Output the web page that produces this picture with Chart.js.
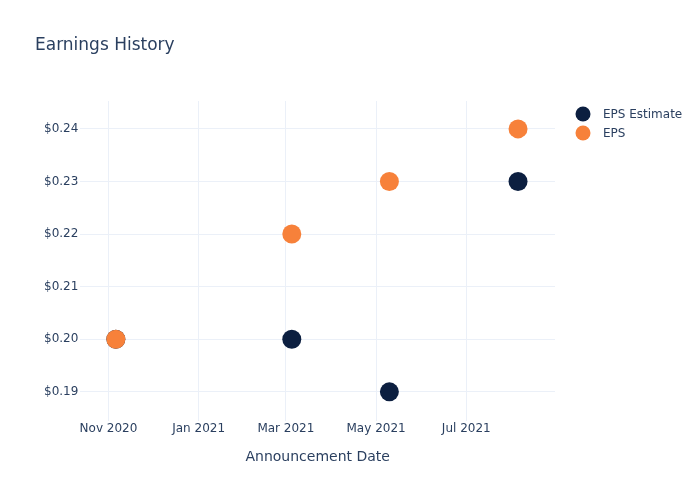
<!DOCTYPE html>
<html>
<head>
<meta charset="utf-8">
<script src="https://cdn.jsdelivr.net/npm/chart.js@4"></script>
<style>
  html, body { margin: 0; padding: 0; background: #fff; }
  #wrap { width: 700px; height: 500px; }
</style>
</head>
<body>
<div id="wrap"><canvas id="chart" width="700" height="500"></canvas></div>
<script>
'use strict';

const announcementDates = ['2020-11-06', '2021-03-05', '2021-05-10', '2021-08-05'];
const epsEstimate = [0.20, 0.20, 0.19, 0.23];
const epsActual = [0.20, 0.22, 0.23, 0.24];
const xTickDates = ['2020-11-01', '2021-01-01', '2021-03-01', '2021-05-01', '2021-07-01'];
const xTickLabels = ['Nov 2020', 'Jan 2021', 'Mar 2021', 'May 2021', 'Jul 2021'];
const yTicks = [0.19, 0.20, 0.21, 0.22, 0.23, 0.24];

const FONT = '"DejaVu Sans", "Open Sans", sans-serif';
const TEXT = '#2a3f5f';
const GRID = '#EBF0F8';
const NAVY = '#0c1f40';
const ORANGE = '#f7813a';

function toMs(d) {
    const p = d.split('-').map(Number);
    return Date.UTC(p[0], p[1] - 1, p[2]);
}

const xTickMs = xTickDates.map(toMs);

function points(values) {
    return announcementDates.map((d, i) => ({ x: toMs(d), y: values[i] }));
}

const series = [
    { label: 'EPS Estimate', data: epsEstimate, color: NAVY },
    { label: 'EPS', data: epsActual, color: ORANGE }
];

// title + legend, drawn by hand to match the plotly layout
const decorations = {
    id: 'decorations',
    afterDraw(chart) {
        const ctx = chart.ctx;
        ctx.save();
        ctx.fillStyle = TEXT;
        ctx.textBaseline = 'middle';
        ctx.font = '17px ' + FONT;
        ctx.fillText('Earnings History', 35, 46);

        ctx.font = '12px ' + FONT;
        series.forEach((s, i) => {
            const y = 114 + i * 19;
            ctx.beginPath();
            ctx.arc(583, y, 7.5, 0, Math.PI * 2);
            ctx.fillStyle = s.color;
            ctx.fill();
            ctx.fillStyle = TEXT;
            ctx.fillText(s.label, 603, y + 1);
        });
        ctx.restore();
    }
};

new Chart(document.getElementById('chart'), {
    type: 'scatter',
    data: {
        datasets: series.map((s, i) => ({
            label: s.label,
            data: points(s.data),
            backgroundColor: s.color,
            borderColor: s.color,
            borderWidth: 0,
            pointRadius: 9.5,
            pointHoverRadius: 9.5,
            order: series.length - i
        }))
    },
    options: {
        responsive: false,
        animation: false,
        layout: {
            padding: { top: 101, right: 145, bottom: 34, left: 42 }
        },
        plugins: {
            legend: { display: false },
            title: { display: false },
            tooltip: { enabled: false }
        },
        scales: {
            x: {
                type: 'linear',
                min: toMs('2020-10-13'),
                max: toMs('2021-08-30'),
                afterBuildTicks(scale) {
                    scale.ticks = xTickMs.map(v => ({ value: v }));
                },
                ticks: {
                    color: TEXT,
                    font: { family: FONT, size: 12 },
                    padding: 1,
                    maxRotation: 0,
                    autoSkip: false,
                    callback(value) {
                        const i = xTickMs.indexOf(value);
                        return i >= 0 ? xTickLabels[i] : '';
                    }
                },
                grid: {
                    color: GRID,
                    drawTicks: false
                },
                border: { display: false },
                title: {
                    display: true,
                    text: 'Announcement Date',
                    color: TEXT,
                    font: { family: FONT, size: 14 },
                    padding: { top: 12, bottom: 0 }
                }
            },
            y: {
                min: 0.1845,
                max: 0.2453,
                afterBuildTicks(scale) {
                    scale.ticks = yTicks.map(v => ({ value: v }));
                },
                ticks: {
                    color: TEXT,
                    font: { family: FONT, size: 12 },
                    padding: 2,
                    callback(value) {
                        return '$' + value.toFixed(2);
                    }
                },
                grid: {
                    color: GRID,
                    drawTicks: false
                },
                border: { display: false }
            }
        }
    },
    plugins: [decorations]
});
</script>
</body>
</html>
